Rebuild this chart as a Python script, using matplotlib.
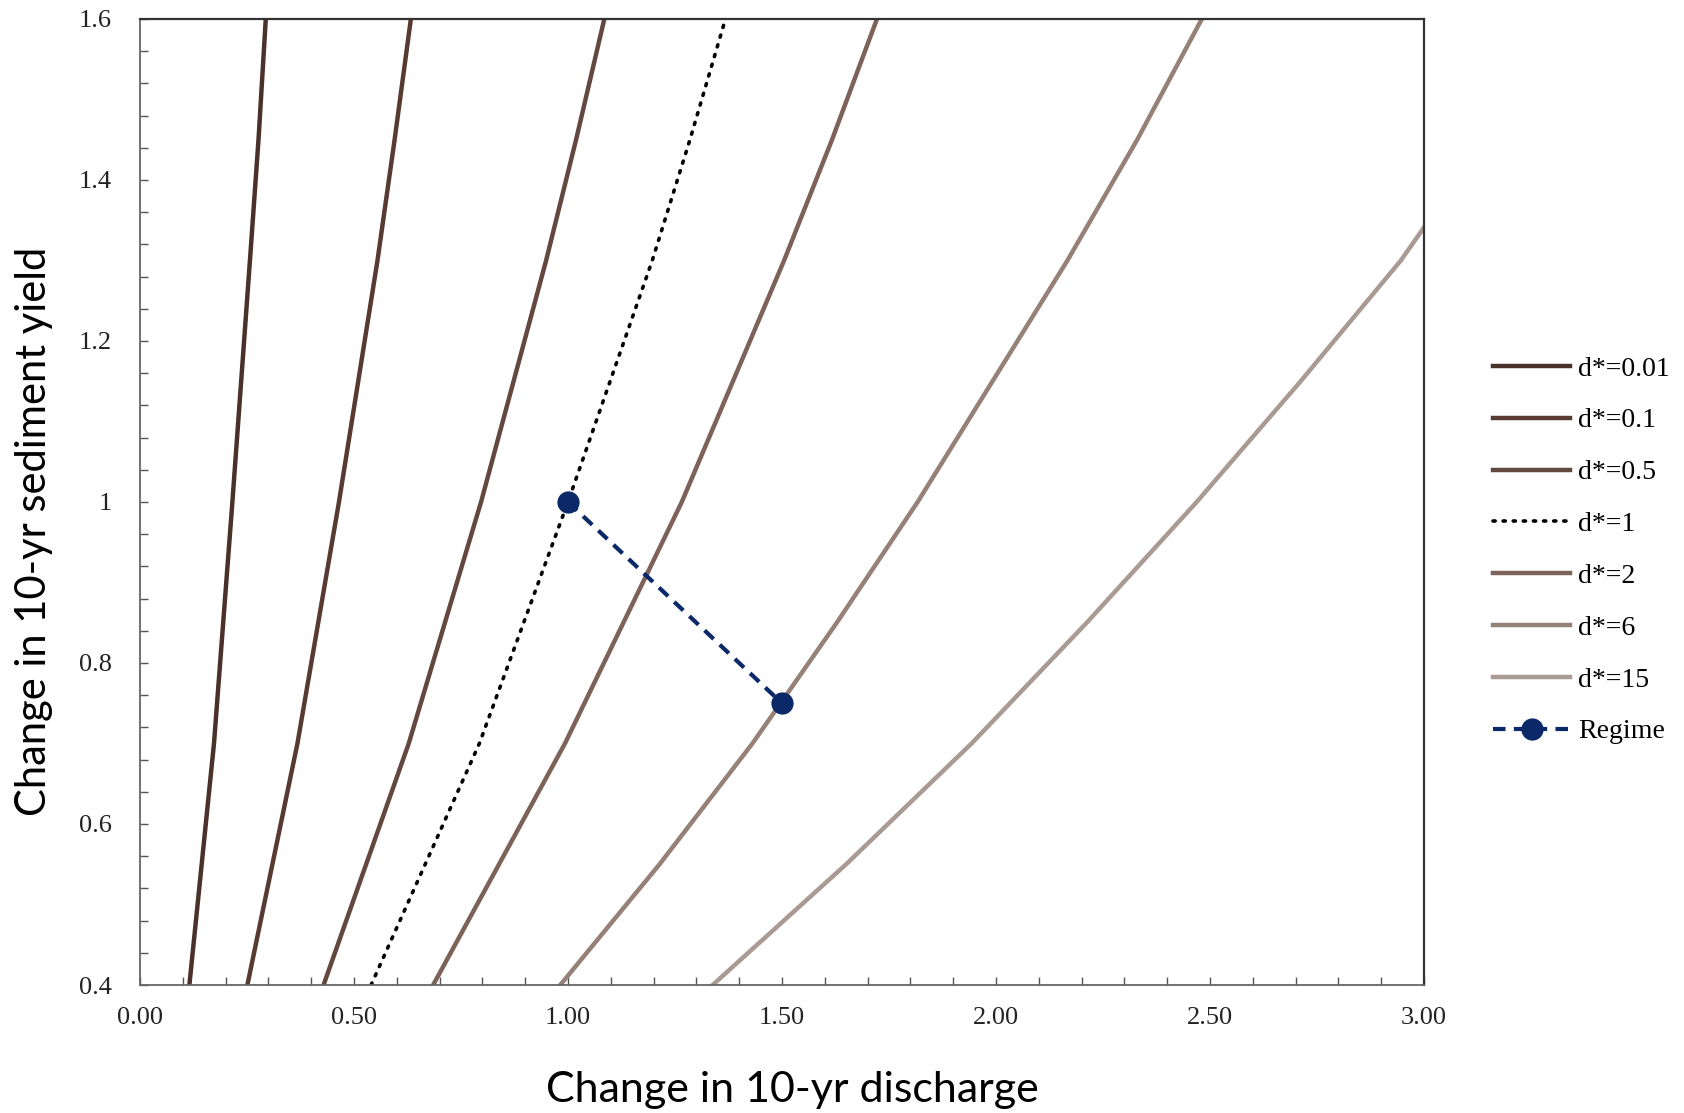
import numpy as np
import matplotlib.pyplot as plt

# values (x = change in discharge, y = change in sediment yield)
yield_levels = [0.4, 0.7, 1.0, 1.3, 1.45, 1.6]

d001_x = [0.1155, 0.173, 0.216, 0.257, 0.277, 0.294]
d01_x = [0.251, 0.368, 0.465, 0.555, 0.595, 0.633]
d05_x = [0.429, 0.628, 0.797, 0.949, 1.019, 1.085]
d1_x = [0.540, 0.793, 1.000, 1.197, 1.285, 1.368]
d2_x = [0.685, 0.993, 1.266, 1.505, 1.617, 1.722]

d6_x = [0.982, 1.214, 1.431, 1.628, 1.817, 2.167, 2.330, 2.481]
d6_y = [0.4, 0.55, 0.7, 0.85, 1.0, 1.3, 1.45, 1.6]

d15_x = [1.338, 1.650, 1.943, 2.212, 2.469, 2.712, 2.946, 3.0]
d15_y = [0.4, 0.55, 0.7, 0.85, 1.0, 1.15, 1.3, 1.341]

regime_x = [1.0, 1.5]
regime_y = [1.0, 0.75]

serif = 'Liberation Serif'

fig = plt.figure(figsize=(16.84, 11.13), dpi=100)
ax = fig.add_axes([0.0831, 0.115, 0.7625, 0.868])

ax.plot(d001_x, yield_levels, color='#4a3129', lw=3.2, label='d*=0.01')
ax.plot(d01_x, yield_levels, color='#573b32', lw=3.2, label='d*=0.1')
ax.plot(d05_x, yield_levels, color='#634840', lw=3.2, label='d*=0.5')
ax.plot(d1_x, yield_levels, color='black', lw=2.6, linestyle=(0, (0.6, 2.2)),
        dash_capstyle='round', label='d*=1')
ax.plot(d2_x, yield_levels, color='#7c6259', lw=3.2, label='d*=2')
ax.plot(d6_x, d6_y, color='#968179', lw=3.2, label='d*=6')
ax.plot(d15_x, d15_y, color='#a99b94', lw=3.2, label='d*=15')
ax.plot(regime_x, regime_y, color='#0b2868', lw=3, linestyle=(0, (3, 2)),
        marker='o', markersize=15, label='Regime')

ax.set_xlim(0, 3)
ax.set_ylim(0.4, 1.6)
ax.set_xticks(np.arange(0, 3.01, 0.5))
ax.set_xticks(np.arange(0, 3.01, 0.1), minor=True)
ax.set_xticklabels(['%.2f' % v for v in np.arange(0, 3.01, 0.5)], fontfamily=serif, fontsize=19, color='#222222')
ax.set_yticks([0.4, 0.6, 0.8, 1.0, 1.2, 1.4, 1.6])
ax.set_yticks(np.arange(0.4, 1.601, 0.04), minor=True)
ax.set_yticklabels(['0.4', '0.6', '0.8', '1', '1.2', '1.4', '1.6'], fontfamily=serif, fontsize=19, color='#222222')
ax.tick_params(which='both', direction='in', length=6, width=1, color='#555555')
ax.tick_params(axis='x', which='both', pad=16)
ax.tick_params(axis='y', which='both', pad=20)
for side in ['left', 'bottom']:
    ax.spines[side].set_color('#666666')
    ax.spines[side].set_linewidth(1.3)
for side in ['top', 'right']:
    ax.spines[side].set_color('#333333')
    ax.spines[side].set_linewidth(1.6)

fig.text(0.4707, 0.021, 'Change in 10-yr discharge', ha='center', va='center',
         fontfamily='Lato', fontsize=31)
fig.text(0.0204, 0.523, 'Change in 10-yr sediment yield', ha='center', va='center',
         rotation=90, fontfamily='Lato', fontsize=30)

leg = ax.legend(loc='center left', bbox_to_anchor=(1.054, 0.45), frameon=False,
                prop={'family': serif, 'size': 20}, handlelength=2.75,
                labelspacing=0.95, handletextpad=0.3, borderaxespad=0, borderpad=0)

fig.savefig('out.png', dpi=100)
